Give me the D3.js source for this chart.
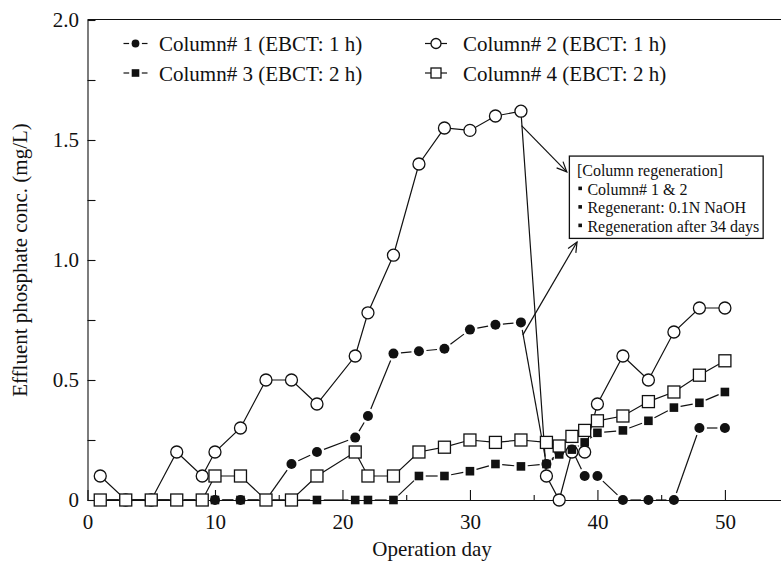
<!DOCTYPE html>
<html>
<head>
<meta charset="utf-8">
<script src="https://cdn.jsdelivr.net/npm/d3@7"></script>
<style>
  html, body { margin: 0; padding: 0; background: #fff; }
  svg { display: block; font-family: "Liberation Serif", "Times New Roman", serif; }
</style>
</head>
<body>
<svg id="chart" width="781" height="562"></svg>
<script>
// Sampling days (operation day)
const days = [1, 3, 5, 7, 9, 10, 12, 14, 16, 18, 21, 22, 24, 26, 28, 30, 32, 34, 36, 37, 38, 39, 40, 42, 44, 46, 48, 50];

// Effluent phosphate concentration (mg/L) per column
const col1 = [0, 0, 0, 0, 0, 0, 0, 0, 0.15, 0.2, 0.26, 0.35, 0.61, 0.62, 0.63, 0.71, 0.73, 0.74, 0.15, 0.2, 0.21, 0.1, 0.1, 0, 0, 0, 0.3, 0.3];
const col2 = [0.1, 0, 0, 0.2, 0.1, 0.2, 0.3, 0.5, 0.5, 0.4, 0.6, 0.78, 1.02, 1.4, 1.55, 1.54, 1.6, 1.62, 0.1, 0, 0.2, 0.2, 0.4, 0.6, 0.5, 0.7, 0.8, 0.8];
const col3 = [0, 0, 0, 0, 0, 0, 0, 0, 0, 0, 0, 0, 0, 0.1, 0.1, 0.12, 0.15, 0.14, 0.15, 0.19, 0.21, 0.24, 0.28, 0.29, 0.33, 0.385, 0.405, 0.45];
const col4 = [0, 0, 0, 0, 0, 0.1, 0.1, 0, 0, 0.1, 0.2, 0.1, 0.1, 0.2, 0.22, 0.25, 0.24, 0.25, 0.24, 0.225, 0.265, 0.29, 0.33, 0.35, 0.41, 0.45, 0.52, 0.58];

const seriesNames = ["Column# 1 (EBCT: 1 h)", "Column# 2 (EBCT: 1 h)", "Column# 3 (EBCT: 2 h)", "Column# 4 (EBCT: 2 h)"];

// Axis ticks
const xTicks = [0, 10, 20, 30, 40, 50];
const xMinorTicks = [5, 15, 25, 35, 45];
const yTicks = [0, 0.5, 1.0, 1.5, 2.0];
const yTickLabels = ["0", "0.5", "1.0", "1.5", "2.0"];
const yMinorTicks = [0.25, 0.75, 1.25, 1.75];

const xTitle = "Operation day";
const yTitle = "Effluent phosphate conc. (mg/L)";

// Regeneration note
const noteLines = ["[Column regeneration]", "Column# 1 & 2", "Regenerant: 0.1N NaOH", "Regeneration after 34 days"];
const noteBox = { d0: 37.8, d1: 53.0, v0: 1.433, v1: 1.09 };
const noteArrows = [
  { from: [34.05, 1.56], to: [37.6, 1.367] },
  { from: [34.15, 0.688], to: [38.4, 1.075] }
];

const W = 781, H = 562;
const svg = d3.select("#chart");

const x = d3.scaleLinear().domain([0, 54.4]).range([87.5, 781]);
const y = d3.scaleLinear().domain([0, 2]).range([500, 20]);

const FONT = '"Liberation Serif", "Times New Roman", serif';
const INK = "#111";

// ---- axes ----
const gx = svg.append("g").attr("transform", `translate(0,${y(0)})`)
  .call(d3.axisBottom(x).tickValues(xTicks).tickSize(-10).tickSizeOuter(0).tickPadding(22)
    .tickFormat(d3.format("d")));
gx.select(".domain").attr("d", `M${x(0)},0.5H${W}`);
svg.append("g").attr("transform", `translate(0,${y(0)})`)
  .call(d3.axisBottom(x).tickValues(xMinorTicks).tickSize(-5).tickFormat(""))
  .select(".domain").remove();

const gy = svg.append("g").attr("transform", `translate(${x(0)},0)`)
  .call(d3.axisLeft(y).tickValues(yTicks).tickSize(-8).tickSizeOuter(0).tickPadding(8.5)
    .tickFormat((d, i) => yTickLabels[i]));
svg.append("g").attr("transform", `translate(${x(0)},0)`)
  .call(d3.axisLeft(y).tickValues(yMinorTicks).tickSize(-8).tickFormat(""))
  .select(".domain").remove();

svg.selectAll(".tick line, .domain").attr("stroke", INK).attr("stroke-width", 1.1);
svg.selectAll(".tick text").attr("font-family", FONT).attr("font-size", 21).attr("fill", INK);
gx.selectAll(".tick text").attr("dy", "0.35em");

// top frame line
svg.append("line")
  .attr("x1", x(0)).attr("x2", W)
  .attr("y1", y(2) - 0.5).attr("y2", y(2) - 0.5)
  .attr("stroke", INK).attr("stroke-width", 1.1);

// axis titles
svg.append("text")
  .attr("x", 432).attr("y", 556)
  .attr("text-anchor", "middle")
  .attr("font-family", FONT).attr("font-size", 21).attr("fill", INK)
  .text(xTitle);
svg.append("text")
  .attr("transform", `translate(27,${(y(0) + y(2)) / 2}) rotate(-90)`)
  .attr("text-anchor", "middle")
  .attr("font-family", FONT).attr("font-size", 21).attr("fill", INK)
  .text(yTitle);

// ---- series ----
const series = [
  { name: seriesNames[0], values: col1, shape: "circle", filled: true },
  { name: seriesNames[1], values: col2, shape: "circle", filled: false },
  { name: seriesNames[2], values: col3, shape: "square", filled: true },
  { name: seriesNames[3], values: col4, shape: "square", filled: false }
];

const markerSize = { circle: { true: 5, false: 6 }, square: { true: 4.3, false: 6 } };

function drawMarker(g, cx, cy, shape, filled, r) {
  if (shape === "circle") {
    g.append("circle").attr("cx", cx).attr("cy", cy).attr("r", r)
      .attr("fill", filled ? INK : "#fff").attr("stroke", INK).attr("stroke-width", filled ? 0 : 1.3);
  } else {
    g.append("rect").attr("x", cx - r).attr("y", cy - r).attr("width", 2 * r).attr("height", 2 * r)
      .attr("fill", filled ? INK : "#fff").attr("stroke", INK).attr("stroke-width", filled ? 0 : 1.3);
  }
}

function trimmedSegments(pts, gap) {
  const segs = [];
  for (let i = 1; i < pts.length; i++) {
    const [x0, y0] = pts[i - 1], [x1, y1] = pts[i];
    const len = Math.hypot(x1 - x0, y1 - y0);
    if (len <= 2 * gap) continue;
    const ux = (x1 - x0) / len, uy = (y1 - y0) / len;
    segs.push([x0 + ux * gap, y0 + uy * gap, x1 - ux * gap, y1 - uy * gap]);
  }
  return segs;
}

const plot = svg.append("g");
series.forEach(s => {
  const g = plot.append("g");
  const pts = days.map((d, i) => [d, s.values[i]]).filter(p => p[1] != null)
    .map(([d, v]) => [x(d), y(v)]);
  const r = markerSize[s.shape][s.filled];
  if (s.filled) {
    g.selectAll("line").data(trimmedSegments(pts, r + 2.5)).join("line")
      .attr("x1", d => d[0]).attr("y1", d => d[1]).attr("x2", d => d[2]).attr("y2", d => d[3])
      .attr("stroke", INK).attr("stroke-width", 1.2);
  } else {
    g.append("path").attr("d", d3.line()(pts))
      .attr("fill", "none").attr("stroke", INK).attr("stroke-width", 1.2);
  }
  pts.forEach(([cx, cy]) => drawMarker(g, cx, cy, s.shape, s.filled, r));
});

// ---- legend ----
const legendPos = [
  { sx: 135.5, tx: 159, y: 51 },
  { sx: 436, tx: 463, y: 51 },
  { sx: 135.5, tx: 159, y: 80.5 },
  { sx: 436, tx: 463, y: 80.5 }
];
series.forEach((s, i) => {
  const p = legendPos[i];
  const g = svg.append("g");
  const cy = p.y - 7.5;
  const r = s.filled ? (s.shape === "circle" ? 3.9 : 3.8) : 5;
  if (s.filled) {
    [[-12, -r - 2.5], [r + 2.5, 12]].forEach(([a, b]) =>
      g.append("line").attr("x1", p.sx + a).attr("x2", p.sx + b).attr("y1", cy).attr("y2", cy)
        .attr("stroke", INK).attr("stroke-width", 1.2));
  } else {
    g.append("line").attr("x1", p.sx - 11).attr("x2", p.sx + 11).attr("y1", cy).attr("y2", cy)
      .attr("stroke", INK).attr("stroke-width", 1.2);
  }
  drawMarker(g, p.sx, cy, s.shape, s.filled, r);
  g.append("text").attr("x", p.tx).attr("y", p.y)
    .attr("font-family", FONT).attr("font-size", 21).attr("fill", INK)
    .text(s.name);
});

// ---- regeneration note ----
const bx0 = x(noteBox.d0), bx1 = x(noteBox.d1), by0 = y(noteBox.v0), by1 = y(noteBox.v1);
svg.append("rect").attr("x", bx0).attr("y", by0).attr("width", bx1 - bx0).attr("height", by1 - by0)
  .attr("fill", "#fff").attr("stroke", INK).attr("stroke-width", 1.3);
noteLines.forEach((t, i) => {
  const ty = by0 + 20 + i * 18.5;
  if (i > 0) {
    svg.append("rect").attr("x", bx0 + 9).attr("y", ty - 8).attr("width", 3.6).attr("height", 3.6).attr("fill", INK);
  }
  svg.append("text").attr("x", i === 0 ? bx0 + 7.5 : bx0 + 18).attr("y", ty)
    .attr("font-family", FONT).attr("font-size", 16).attr("fill", INK)
    .text(t);
});

noteArrows.forEach(a => {
  const x0 = x(a.from[0]), y0 = y(a.from[1]), x1 = x(a.to[0]), y1 = y(a.to[1]);
  const ang = Math.atan2(y1 - y0, x1 - x0), L = 11, spread = 0.42;
  svg.append("line").attr("x1", x0).attr("y1", y0).attr("x2", x1).attr("y2", y1)
    .attr("stroke", INK).attr("stroke-width", 1.2);
  svg.append("path")
    .attr("d", `M${x1 - L * Math.cos(ang - spread)},${y1 - L * Math.sin(ang - spread)}L${x1},${y1}L${x1 - L * Math.cos(ang + spread)},${y1 - L * Math.sin(ang + spread)}`)
    .attr("fill", "none").attr("stroke", INK).attr("stroke-width", 1.2);
});
</script>
</body>
</html>
